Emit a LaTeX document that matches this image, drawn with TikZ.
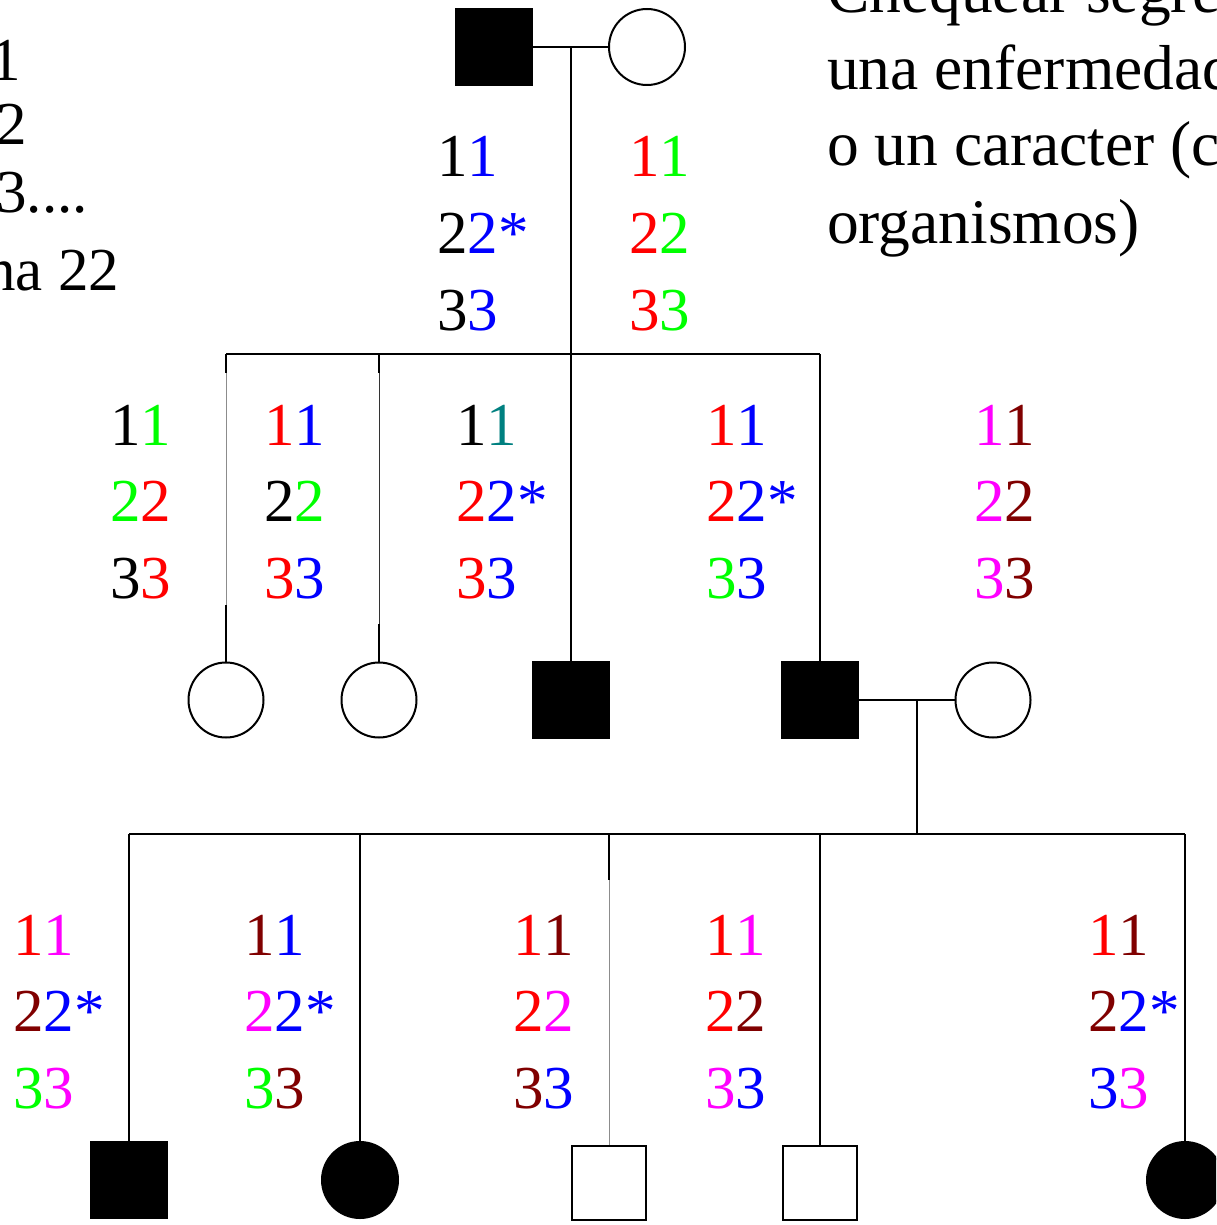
\documentclass[tikz,border=0pt]{standalone}
\usepackage{fontspec}
\setmainfont{Liberation Serif}
\definecolor{maroon}{RGB}{128,0,0}
\definecolor{tealc}{RGB}{0,128,128}
\definecolor{mag}{RGB}{255,0,255}
\definecolor{grn}{RGB}{0,255,0}
\definecolor{rd}{RGB}{255,0,0}
\definecolor{bl}{RGB}{0,0,255}
% two coloured alleles of one marker: colour A, colour B, digit, mark
\newcommand\gp[4]{{\color{#1}#3}{\color{#2}#3#4}}

\begin{document}
\begin{tikzpicture}[x=1pt,y=-1pt, line width=2pt,
  male/.style={rectangle, draw, minimum size=76pt, inner sep=0pt},
  female/.style={circle, draw, minimum size=75pt, inner sep=0pt},
  affected/.style={fill=black},
  gtype/.style={anchor=base west, inner sep=0pt, font=\fontsize{61}{73}\selectfont},
  note/.style={inner sep=0pt, font=\fontsize{61}{73}\selectfont},
  bignote/.style={inner sep=0pt, font=\fontsize{63.5}{73}\selectfont},
  faint/.style={line width=0.6pt, draw=black!45},
  faintdark/.style={line width=0.9pt, draw=black!80}]

\useasboundingbox (0,0) rectangle (1216,1225);
\clip (0,0) rectangle (1216,1225);

% ---------- side notes ----------
\node[note, anchor=base east] (l1) at (22,81) {1};
\node[note, anchor=base east] (l2) at (28,145) {2};
\node[note, anchor=base east] (l3) at (89,212) {3....};
\node[note, anchor=base east] (l4) at (120,290) {na 22};

\node[bignote, anchor=base west] (r1) at (826,13) {Chequear segre};
\node[bignote, anchor=base west] (r2) at (826,90) {una enfermedad};
\node[bignote, anchor=base west] (r3) at (826,166) {o un caracter (c};
\node[bignote, anchor=base west] (r4) at (826,243) {organismos)};

% ---------- generation I ----------
\node[male, affected] (fa) at (494,47) {};
\node[female, minimum size=76pt] (mo) at (647,47) {};

\coordinate (j1) at (571,47);
\coordinate (k1) at (571,354);
\coordinate (k1l) at (226,354);
\coordinate (k1b) at (379,354);
\coordinate (k1r) at (820,354);
\draw (fa) -- (mo);
\draw (j1) -- (k1);
\draw (k1l) -- (k1r);

\node[gtype] (fa1) at (436,177) {\gp{black}{bl}{1}{}};
\node[gtype] (fa2) at (436,253.5) {\gp{black}{bl}{2}{*}};
\node[gtype] (fa3) at (436,330) {\gp{black}{bl}{3}{}};
\node[gtype] (mo1) at (628,177) {\gp{rd}{grn}{1}{}};
\node[gtype] (mo2) at (628,253.5) {\gp{rd}{grn}{2}{}};
\node[gtype] (mo3) at (628,330) {\gp{rd}{grn}{3}{}};

% ---------- generation II ----------
\node[female] (d1) at (226,700) {};
\node[female] (d2) at (379,700) {};
\node[male, affected] (s3) at (571,700) {};
\node[male, affected] (s4) at (820,700) {};
\node[female] (wi) at (993,700) {};

\coordinate (b1) at (226,373);
\coordinate (b2) at (226,605);
\coordinate (b3) at (379,373);
\coordinate (b4) at (379,624);
\draw (k1l) -- (b1);
\draw[faint] (b1) -- (b2);
\draw (b2) -- (d1);
\draw (k1b) -- (b3);
\draw[faintdark] (b3) -- (b4);
\draw (b4) -- (d2);
\draw (k1) -- (s3);
\draw (k1r) -- (s4);

\node[gtype] (a1) at (109,445) {\gp{black}{grn}{1}{}};
\node[gtype] (a2) at (109,521.5) {\gp{grn}{rd}{2}{}};
\node[gtype] (a3) at (109,598) {\gp{black}{rd}{3}{}};
\node[gtype] (bb1) at (263,445) {\gp{rd}{bl}{1}{}};
\node[gtype] (bb2) at (263,521.5) {\gp{black}{grn}{2}{}};
\node[gtype] (bb3) at (263,598) {\gp{rd}{bl}{3}{}};
\node[gtype] (c1) at (455,445) {\gp{black}{tealc}{1}{}};
\node[gtype] (c2) at (455,521.5) {\gp{rd}{bl}{2}{*}};
\node[gtype] (c3) at (455,598) {\gp{rd}{bl}{3}{}};
\node[gtype] (e1) at (705,445) {\gp{rd}{bl}{1}{}};
\node[gtype] (e2) at (705,521.5) {\gp{rd}{bl}{2}{*}};
\node[gtype] (e3) at (705,598) {\gp{grn}{bl}{3}{}};
\node[gtype] (w1) at (973,445) {\gp{mag}{maroon}{1}{}};
\node[gtype] (w2) at (973,521.5) {\gp{mag}{maroon}{2}{}};
\node[gtype] (w3) at (973,598) {\gp{mag}{maroon}{3}{}};

% ---------- generation III ----------
\coordinate (j2) at (917,700);
\coordinate (k2) at (917,834);
\coordinate (k2l) at (129,834);
\coordinate (k2b) at (360,834);
\coordinate (k2c) at (609,834);
\coordinate (k2d) at (820,834);
\coordinate (k2r) at (1185,834);
\coordinate (b5) at (609,880);
\draw (s4) -- (wi);
\draw (j2) -- (k2);
\draw (k2l) -- (k2r);

\node[male, affected] (g1) at (129,1180) {};
\node[female, affected, minimum size=76pt] (g2) at (360,1180) {};
\node[male, minimum size=74pt] (g3) at (609,1183) {};
\node[male, minimum size=74pt] (g4) at (820,1183) {};
\node[female, affected, minimum size=76pt] (g5) at (1185,1180) {};

\draw (k2l) -- (g1);
\draw (k2b) -- (g2);
\draw (k2c) -- (b5);
\draw[faint] (b5) -- (g3);
\draw (k2d) -- (g4);
\draw (k2r) -- (g5);

\node[gtype] (f1) at (12,955) {\gp{rd}{mag}{1}{}};
\node[gtype] (f2) at (12,1031.5) {\gp{maroon}{bl}{2}{*}};
\node[gtype] (f3) at (12,1108) {\gp{grn}{mag}{3}{}};
\node[gtype] (h1) at (243,955) {\gp{maroon}{bl}{1}{}};
\node[gtype] (h2) at (243,1031.5) {\gp{mag}{bl}{2}{*}};
\node[gtype] (h3) at (243,1108) {\gp{grn}{maroon}{3}{}};
\node[gtype] (i1) at (512,955) {\gp{rd}{maroon}{1}{}};
\node[gtype] (i2) at (512,1031.5) {\gp{rd}{mag}{2}{}};
\node[gtype] (i3) at (512,1108) {\gp{maroon}{bl}{3}{}};
\node[gtype] (m1) at (704,955) {\gp{rd}{mag}{1}{}};
\node[gtype] (m2) at (704,1031.5) {\gp{rd}{maroon}{2}{}};
\node[gtype] (m3) at (704,1108) {\gp{mag}{bl}{3}{}};
\node[gtype] (n1) at (1087,955) {\gp{rd}{maroon}{1}{}};
\node[gtype] (n2) at (1087,1031.5) {\gp{maroon}{bl}{2}{*}};
\node[gtype] (n3) at (1087,1108) {\gp{bl}{mag}{3}{}};
\end{tikzpicture}
\end{document}
